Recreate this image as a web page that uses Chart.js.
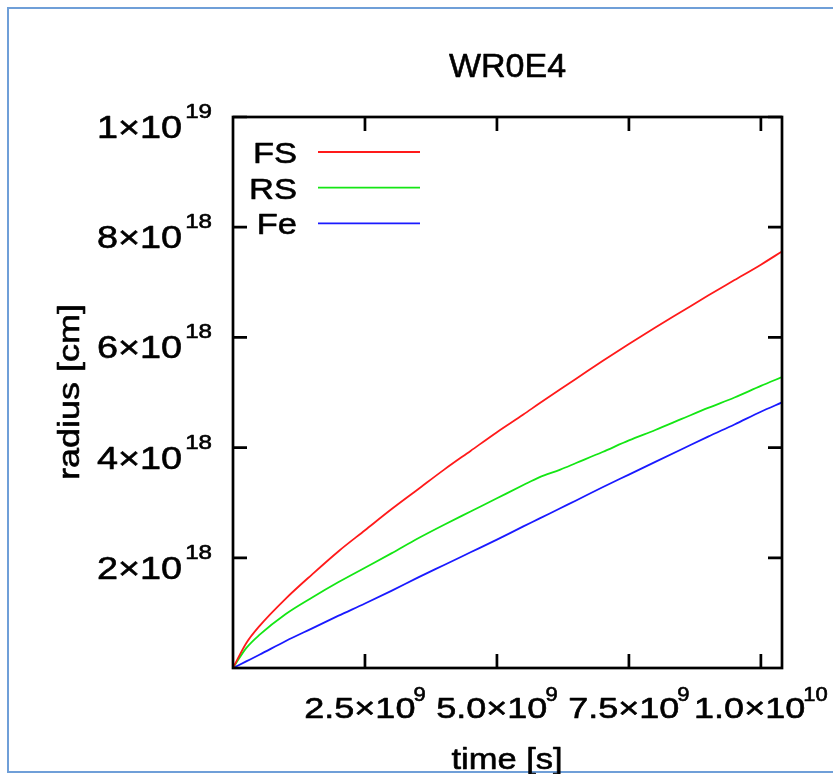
<!DOCTYPE html>
<html>
<head>
<meta charset="utf-8">
<title>WR0E4</title>
<script src="https://cdn.jsdelivr.net/npm/chart.js@4.4.1/dist/chart.umd.min.js"></script>
<style>
  html, body { margin: 0; padding: 0; background: #fff; }
  canvas { display: block; }
</style>
</head>
<body>
<canvas id="wrChart" width="833" height="774"></canvas>
<script>
// time in seconds, radius in cm
const timeS = [0, 0.25e9, 0.5e9, 1e9, 1.5e9, 2e9, 2.5e9, 3e9, 3.5e9, 4e9, 4.5e9, 5e9, 5.5e9, 5.8e9,
  6.2e9, 6.5e9, 7e9, 7.5e9, 8e9, 8.5e9, 9e9, 9.5e9, 10e9, 10.4e9];
const fsRadius = [0, 0.45e18, 0.76e18, 1.26e18, 1.7e18, 2.12e18, 2.5e18, 2.88e18, 3.24e18, 3.6e18, 3.94e18,
  4.28e18, 4.6e18, 4.8e18, 5.06e18, 5.25e18, 5.57e18, 5.88e18, 6.18e18, 6.47e18, 6.76e18, 7.04e18, 7.32e18, 7.56e18];
const rsRadius = [0, 0.36e18, 0.6e18, 0.98e18, 1.28e18, 1.56e18, 1.82e18, 2.08e18, 2.35e18, 2.6e18, 2.84e18,
  3.08e18, 3.32e18, 3.46e18, 3.6e18, 3.72e18, 3.92e18, 4.13e18, 4.32e18, 4.52e18, 4.72e18, 4.91e18, 5.12e18, 5.28e18];
const feRadius = [0, 0.12e18, 0.24e18, 0.49e18, 0.72e18, 0.95e18, 1.17e18, 1.4e18, 1.64e18, 1.87e18, 2.1e18,
  2.33e18, 2.57e18, 2.71e18, 2.9e18, 3.04e18, 3.28e18, 3.51e18, 3.74e18, 3.97e18, 4.2e18, 4.42e18, 4.65e18, 4.82e18];

const seriesNames = ['FS', 'RS', 'Fe'];
const seriesColors = ['#ff1a1a', '#14e614', '#1a1aff'];

const xTicks = [2.5e9, 5e9, 7.5e9, 1e10];
const xTickMant = ['2.5', '5.0', '7.5', '1.0'];
const xTickExp = ['9', '9', '9', '10'];
const yTicks = [2e18, 4e18, 6e18, 8e18, 1e19];
const yTickMant = ['2', '4', '6', '8', '1'];
const yTickExp = ['18', '18', '18', '18', '19'];

const FONT = '"Liberation Sans", Arial, Helvetica, sans-serif';

function pts(ys) {
  return timeS.map((t, i) => ({ x: t, y: ys[i] }));
}

// draw text stretched horizontally a bit, like the gnuplot output
function wideText(ctx, str, x, y, size, align, sx) {
  ctx.save();
  ctx.font = size + 'px ' + FONT;
  const w = ctx.measureText(str).width * sx;
  let x0 = x;
  if (align === 'right') x0 = x - w;
  else if (align === 'center') x0 = x - w / 2;
  ctx.translate(x0, y);
  ctx.scale(sx, 1);
  ctx.textAlign = 'left';
  ctx.textBaseline = 'alphabetic';
  ctx.strokeStyle = '#000';
  ctx.lineWidth = 0.6;
  ctx.lineJoin = 'round';
  ctx.fillText(str, 0, 0);
  ctx.strokeText(str, 0, 0);
  ctx.restore();
  return w;
}

function textWidth(ctx, str, size, sx) {
  ctx.save();
  ctx.font = size + 'px ' + FONT;
  const w = ctx.measureText(str).width * sx;
  ctx.restore();
  return w;
}

const gnuplotLook = {
  id: 'gnuplotLook',
  afterDraw(chart) {
    const ctx = chart.ctx;
    const a = chart.chartArea;
    const xs = chart.scales.x;
    const ys = chart.scales.y;
    ctx.save();
    ctx.fillStyle = '#000';

    // outer light blue border
    ctx.strokeStyle = '#6f9fd8';
    ctx.lineWidth = 2;
    ctx.beginPath();
    ctx.moveTo(840, 8); ctx.lineTo(8, 8); ctx.lineTo(8, 772); ctx.lineTo(840, 772);
    ctx.stroke();

    // plot frame
    ctx.strokeStyle = '#000';
    ctx.lineWidth = 2.7;
    ctx.strokeRect(a.left, a.top, a.right - a.left, a.bottom - a.top);

    // inward ticks on all sides
    const tl = 14;
    ctx.beginPath();
    xTicks.forEach(v => {
      const px = xs.getPixelForValue(v);
      ctx.moveTo(px, a.bottom); ctx.lineTo(px, a.bottom - tl);
      ctx.moveTo(px, a.top); ctx.lineTo(px, a.top + tl);
    });
    yTicks.forEach(v => {
      const py = ys.getPixelForValue(v);
      ctx.moveTo(a.left, py); ctx.lineTo(a.left + tl, py);
      ctx.moveTo(a.right, py); ctx.lineTo(a.right - tl, py);
    });
    ctx.stroke();

    // y tick labels
    yTicks.forEach((v, i) => {
      const py = ys.getPixelForValue(v);
      const supW = wideText(ctx, yTickExp[i], a.left - 21, py + 1, 21, 'right', 1.15);
      wideText(ctx, yTickMant[i] + '\u00d710', a.left - 21 - supW - 3, py + 21, 31, 'right', 1.22);
    });

    // x tick labels
    xTicks.forEach((v, i) => {
      const px = xs.getPixelForValue(v);
      const mainStr = xTickMant[i] + '\u00d710';
      const mw = textWidth(ctx, mainStr, 30, 1.2);
      const sw = textWidth(ctx, xTickExp[i], 20, 1.1);
      const x0 = px - (mw - 2 + sw) / 2;
      wideText(ctx, mainStr, x0, 718, 30, 'left', 1.2);
      wideText(ctx, xTickExp[i], x0 + mw - 2, 701, 20, 'left', 1.1);
    });

    // axis titles
    wideText(ctx, 'time [s]', 507, 769, 30, 'center', 1.15);
    ctx.save();
    ctx.translate(79, 392);
    ctx.rotate(-Math.PI / 2);
    wideText(ctx, 'radius [cm]', 0, 0, 30, 'center', 1.2);
    ctx.restore();

    // title
    wideText(ctx, 'WR0E4', 507.5, 77, 34, 'center', 1.0);

    // key, text left of the sample line
    chart.data.datasets.forEach((ds, i) => {
      const ly = 152 + i * 35.7;
      wideText(ctx, ds.label, 297, ly + 11, 30, 'right', 1.15);
      ctx.strokeStyle = ds.borderColor;
      ctx.lineWidth = 1.8;
      ctx.beginPath();
      ctx.moveTo(318, ly); ctx.lineTo(420, ly);
      ctx.stroke();
    });

    ctx.restore();
  }
};

new Chart(document.getElementById('wrChart'), {
  type: 'line',
  data: {
    datasets: [
      { label: seriesNames[0], data: pts(fsRadius), borderColor: seriesColors[0] },
      { label: seriesNames[1], data: pts(rsRadius), borderColor: seriesColors[1] },
      { label: seriesNames[2], data: pts(feRadius), borderColor: seriesColors[2] }
    ]
  },
  options: {
    responsive: false,
    animation: false,
    layout: { padding: { left: 233, top: 117, right: 51, bottom: 106 } },
    elements: {
      point: { radius: 0 },
      line: { borderWidth: 1.8, cubicInterpolationMode: 'monotone', fill: false }
    },
    plugins: {
      legend: { display: false },
      title: { display: false },
      tooltip: { enabled: false }
    },
    scales: {
      x: { type: 'linear', min: 0, max: 1.04e10, display: false },
      y: { type: 'linear', min: 0, max: 1e19, display: false }
    }
  },
  plugins: [gnuplotLook]
});
</script>
</body>
</html>
